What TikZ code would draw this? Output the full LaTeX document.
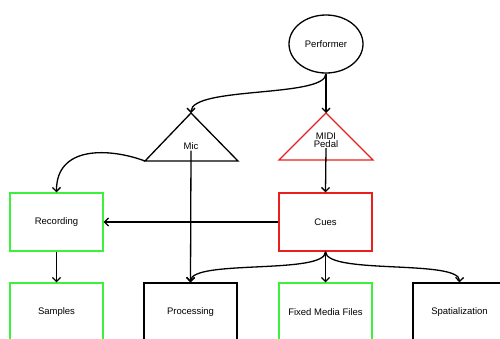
\documentclass[tikz,border=0pt]{standalone}
\usepackage{fontspec}
\setmainfont{Liberation Sans}
\usetikzlibrary{arrows.meta,shapes.geometric}
\definecolor{bgreen}{RGB}{60,240,60}
\definecolor{bred}{RGB}{235,30,30}
\begin{document}
\begin{tikzpicture}[x=1pt,y=-1pt,
  lw/.style={line width=1.3pt},
  box/.style={draw,lw,minimum width=93pt,minimum height=58pt,inner sep=0pt,font=\fontsize{9.5}{10.5}\selectfont},
  lbl/.style={inner sep=1pt,font=\fontsize{9.5}{10.5}\selectfont,align=center},
  conn/.style={lw,-{Straight Barb[length=4pt,width=8pt]}}]
\useasboundingbox (0,0) rectangle (500,338);
\clip (0,0) rectangle (500,338);
% performer
\node[draw,lw,ellipse,minimum width=74pt,minimum height=58pt,inner sep=0pt,font=\fontsize{9.5}{10.5}\selectfont] (perf) at (326,44) {Performer};
% triangles
\coordinate (micTop) at (191,113);
\coordinate (micL) at (145,161);
\coordinate (micR) at (238,161);
\draw[lw,line join=miter] (micTop) -- (micL) -- (micR) -- cycle;
\node[lbl] (mic) at (191,146) {Mic};
\coordinate (midiTop) at (326,113);
\coordinate (midiL) at (279,160);
\coordinate (midiR) at (373,160);
\draw[lw,bred,line join=miter] (midiTop) -- (midiL) -- (midiR) -- cycle;
\node[lbl,inner sep=0.5pt] (midi) at (326,140) {MIDI\\[-2.5pt]Pedal};
% boxes
\node[box,bgreen,text=black] (rec) at (56.5,222) {Recording};
\node[box,bred,text=black] (cues) at (325.5,222) {Cues};
\node[box,bgreen,text=black] (samp) at (56.5,312) {Samples};
\node[box] (proc) at (190.5,312) {Processing};
\node[box,bgreen,text=black] (fixed) at (325.5,312) {Fixed Media Files};
\node[box] (spat) at (459.5,312) {Spatialization};
% connectors
\draw[conn] (perf.south) -- (midiTop);
\draw[conn] (perf.south) .. controls (326,98) and (191,86) .. (micTop);
\draw[conn] (micL) .. controls (110,148) and (56,145) .. (rec.north);
\draw[conn] (mic.south) -- (proc.north);
\draw[conn] (midi.south) -- (cues.north);
\draw[conn] (cues.west) -- (rec.east);
\draw[conn] (rec.south) -- (samp.north);
\draw[conn] (cues.south) -- (fixed.north);
\draw[conn] (cues.south) .. controls (326,275) and (191,259) .. (proc.north);
\draw[conn] (cues.south) .. controls (326,275) and (460,259) .. (spat.north);
\end{tikzpicture}
\end{document}
